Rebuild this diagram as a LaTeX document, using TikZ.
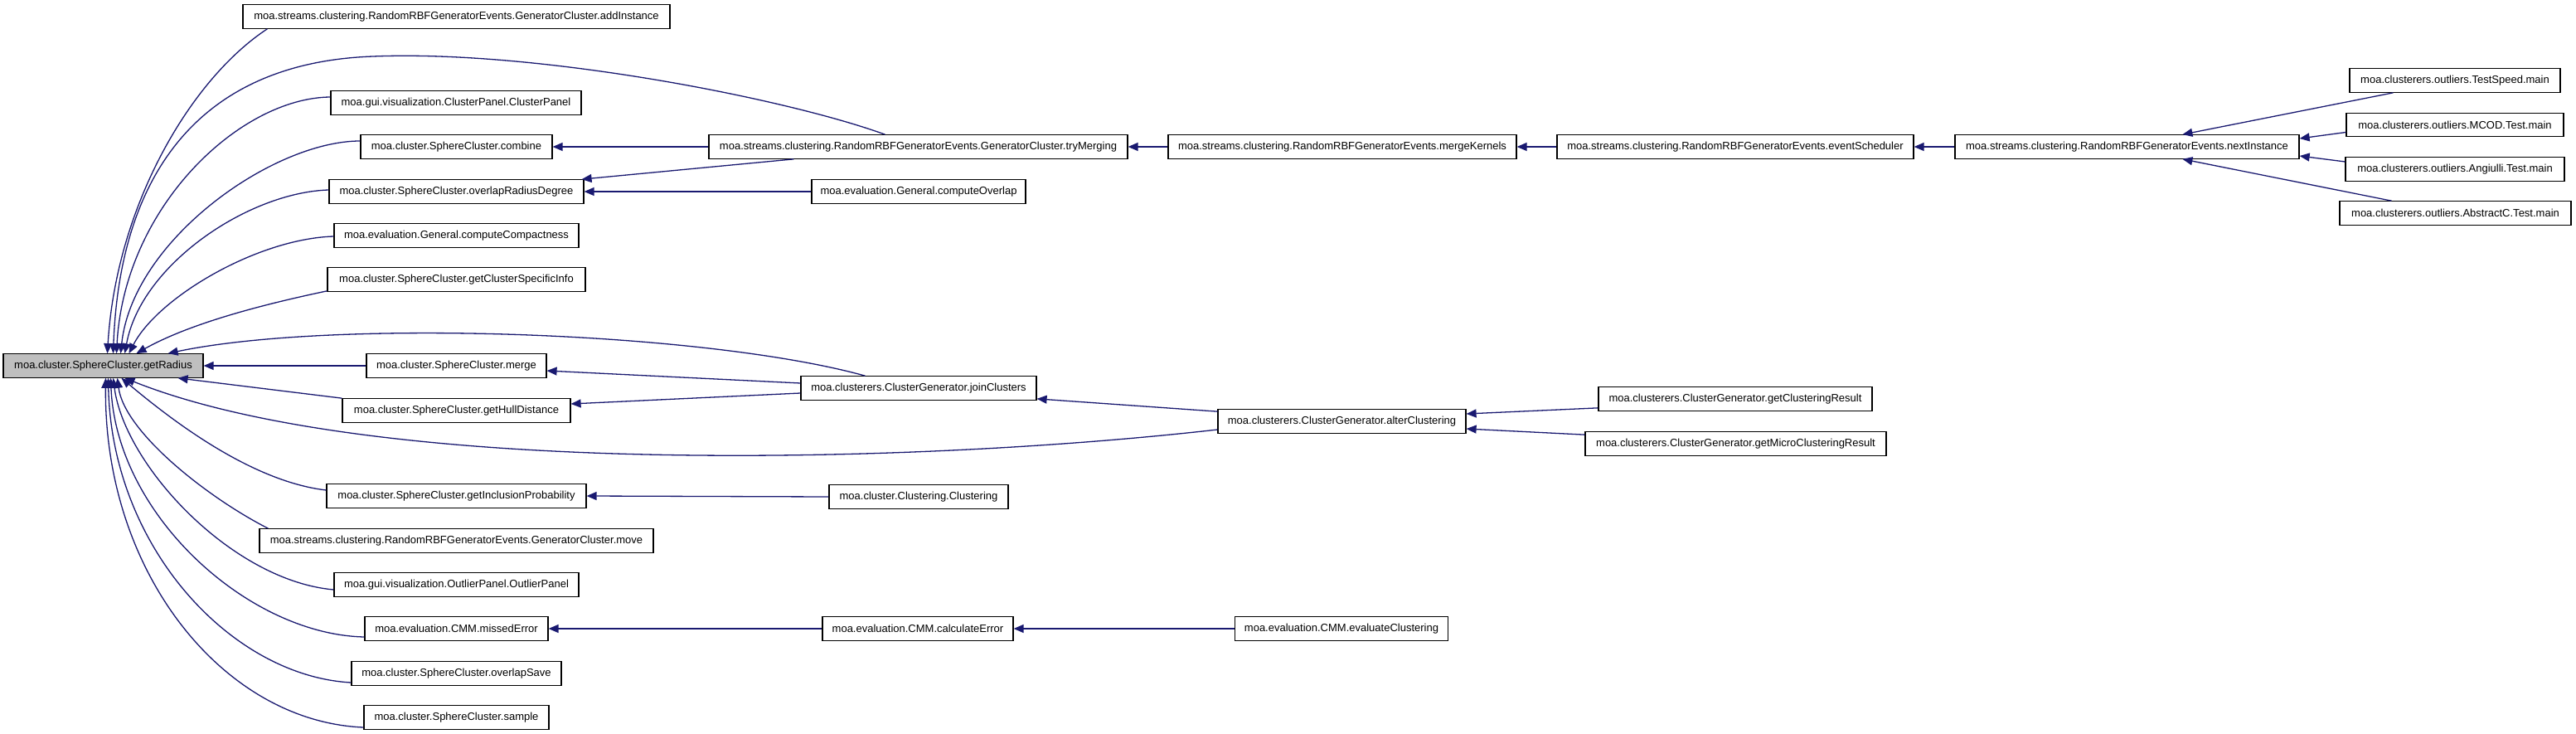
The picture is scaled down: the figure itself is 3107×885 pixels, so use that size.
\documentclass[tikz,border=0pt]{standalone}
\usepackage{fontspec}
\setmainfont{Liberation Sans}
\usetikzlibrary{arrows.meta,calc}
\definecolor{edgeblue}{HTML}{191970}
\definecolor{boxgray}{HTML}{BFBFBF}
\begin{document}
\begin{tikzpicture}[x=1pt,y=-1pt,
  fn/.style={draw=black, line width=1.2pt, fill=white, minimum height=28.5pt,
    inner xsep=2pt, inner ysep=0pt, font=\fontsize{13}{15}\selectfont, minimum width=#1},
  ed/.style={draw=edgeblue, line width=1.3pt, -{Triangle[length=12pt,width=10pt]}}]
\useasboundingbox (0,0) rectangle (3107,885);
% column 1
\node[fn=241, fill=boxgray] (gr) at (124.5,441) {moa.cluster.SphereCluster.getRadius};
% column 2
\node[fn=515] (ai) at (550.5,20) {moa.streams.clustering.RandomRBFGeneratorEvents.GeneratorCluster.addInstance};
\node[fn=302] (cp) at (550,124) {moa.gui.visualization.ClusterPanel.ClusterPanel};
\node[fn=231] (cb) at (550.5,177) {moa.cluster.SphereCluster.combine};
\node[fn=307] (ord) at (550.5,231) {moa.cluster.SphereCluster.overlapRadiusDegree};
\node[fn=295] (cc) at (550.5,284) {moa.evaluation.General.computeCompactness};
\node[fn=311] (gcsi) at (550.5,337) {moa.cluster.SphereCluster.getClusterSpecificInfo};
\node[fn=217] (mg) at (550.5,441) {moa.cluster.SphereCluster.merge};
\node[fn=275] (ghd) at (550.5,495) {moa.cluster.SphereCluster.getHullDistance};
\node[fn=313] (gip) at (550.5,598) {moa.cluster.SphereCluster.getInclusionProbability};
\node[fn=475] (mv) at (550.5,652) {moa.streams.clustering.RandomRBFGeneratorEvents.GeneratorCluster.move};
\node[fn=295] (op) at (550.5,705) {moa.gui.visualization.OutlierPanel.OutlierPanel};
\node[fn=221] (me) at (550.5,758) {moa.evaluation.CMM.missedError};
\node[fn=253] (os) at (550.5,812) {moa.cluster.SphereCluster.overlapSave};
\node[fn=223] (sp) at (550.5,865) {moa.cluster.SphereCluster.sample};
% column 3
\node[fn=505] (tm) at (1107.5,177) {moa.streams.clustering.RandomRBFGeneratorEvents.GeneratorCluster.tryMerging};
\node[fn=258] (co) at (1108,231) {moa.evaluation.General.computeOverlap};
\node[fn=284] (jc) at (1108,468) {moa.clusterers.ClusterGenerator.joinClusters};
\node[fn=216] (cl) at (1108,599) {moa.cluster.Clustering.Clustering};
\node[fn=230] (ce) at (1107,758) {moa.evaluation.CMM.calculateError};
% column 4
\node[fn=420] (mk) at (1619,177) {moa.streams.clustering.RandomRBFGeneratorEvents.mergeKernels};
\node[fn=299] (ac) at (1618.5,508) {moa.clusterers.ClusterGenerator.alterClustering};
\node[fn=257] (ec) at (1618,758) {moa.evaluation.CMM.evaluateClustering};
% column 5
\node[fn=430] (es) at (2093,177) {moa.streams.clustering.RandomRBFGeneratorEvents.eventScheduler};
\node[fn=330] (gcr) at (2093,481) {moa.clusterers.ClusterGenerator.getClusteringResult};
\node[fn=363] (gmcr) at (2093.5,535) {moa.clusterers.ClusterGenerator.getMicroClusteringResult};
% column 6
\node[fn=415] (ni) at (2565.5,177) {moa.streams.clustering.RandomRBFGeneratorEvents.nextInstance};
% column 7
\node[fn=254] (ts) at (2961,97) {moa.clusterers.outliers.TestSpeed.main};
\node[fn=262] (mc) at (2961,150.5) {moa.clusterers.outliers.MCOD.Test.main};
\node[fn=264] (an) at (2961,204) {moa.clusterers.outliers.Angiulli.Test.main};
\node[fn=279] (abs) at (2961.5,257) {moa.clusterers.outliers.AbstractC.Test.main};
\coordinate (tmvia) at (450,68);
% curved edges into getRadius (top)
\draw[ed] ($(ai.south west)+(30,0)$) .. controls +(-93,61) and +(10.5,-177) .. ($(gr.north)+(5,0)$);
\draw[ed] ($(tm.north west)+(213,0)$) .. controls +(-118,-43) and +(200,-8) .. (tmvia)
   .. controls +(-200,7) and +(8.5,-227) .. ($(gr.north)+(12,0)$);
\draw[ed] ($(cp.west)+(0,-7)$) .. controls +(-109,1) and +(9.5,-177) .. ($(gr.north)+(16,0)$);
\draw[ed] ($(cb.west)+(0,-7)$) .. controls +(-105,0) and +(14.5,-137) .. ($(gr.north)+(21,0)$);
\draw[ed] ($(ord.west)+(0,-2)$) .. controls +(-97,3) and +(19.5,-107) .. ($(gr.north)+(26,0)$);
\draw[ed] ($(cc.west)+(0,1)$) .. controls +(-93,3) and +(34.5,-67) .. ($(gr.north)+(31,0)$);
\draw[ed] ($(gcsi.south west)+(0,-1)$) .. controls +(-75,15.75) and +(65.5,-36.75) .. ($(gr.north)+(40,0)$);
\draw[ed] ($(jc.north west)+(78,0)$) .. controls +(-194,-53.75) and +(198,-41.75) .. ($(gr.north east)+(-43,0)$);
% straight edges into getRadius
\draw[ed] (mg.west) -- (gr.east);
\draw[ed] (ghd.north west) -- ($(gr.south east)+(-31,0)$);
% curved edges into getRadius (bottom)
\draw[ed] ($(ac.west)+(0,10)$) .. controls +(-369,42) and +(299.5,119.75) .. ($(gr.south)+(26,0)$);
\draw[ed] ($(gip.west)+(0,-7)$) .. controls +(-94,-11) and +(53.5,44.75) .. ($(gr.south)+(22,0)$);
\draw[ed] ($(mv.north west)+(11,0)$) .. controls +(-74,-37.75) and +(8.5,64.75) .. ($(gr.south)+(17,0)$);
\draw[ed] ($(op.west)+(0,6)$) .. controls +(-123,-11) and +(13.5,104.75) .. ($(gr.south)+(12,0)$);
\draw[ed] ($(me.west)+(0,10)$) .. controls +(-140,-3) and +(6.5,164.75) .. ($(gr.south)+(9,0)$);
\draw[ed] ($(os.west)+(0,11)$) .. controls +(-144,-8) and +(4.5,204.75) .. ($(gr.south)+(6,0)$);
\draw[ed] ($(sp.west)+(0,12)$) .. controls +(-169,-7) and +(-2.5,234.75) .. ($(gr.south)+(3,0)$);
% other edges
\draw[ed] (tm.west) -- (cb.east);
\draw[ed] ($(tm.south west)+(103,0)$) -- ($(ord.north east)+(-3,0)$);
\draw[ed] (co.west) -- (ord.east);
\draw[ed] ($(jc.west)+(0,-6)$) -- ($(mg.east)+(0,6)$);
\draw[ed] ($(jc.west)+(0,6)$) -- ($(ghd.east)+(0,-8)$);
\draw[ed] (cl.west) -- (gip.east);
\draw[ed] (ce.west) -- (me.east);
\draw[ed] (mk.west) -- (tm.east);
\draw[ed] ($(ac.north west)+(0,3)$) -- ($(jc.south east)+(0,-2)$);
\draw[ed] (ec.west) -- (ce.east);
\draw[ed] (es.west) -- (mk.east);
\draw[ed] ($(gcr.south west)+(0,-4)$) -- ($(ac.east)+(0,-9)$);
\draw[ed] ($(gmcr.north west)+(0,4)$) -- ($(ac.east)+(0,9)$);
\draw[ed] (ni.west) -- (es.east);
\draw[ed] ($(ts.south west)+(53,0)$) -- ($(ni.north west)+(275,0)$);
\draw[ed] ($(mc.west)+(0,9)$) -- ($(ni.east)+(0,-10)$);
\draw[ed] ($(an.west)+(0,-9)$) -- ($(ni.east)+(0,11)$);
\draw[ed] ($(abs.north west)+(63,0)$) -- ($(ni.south west)+(275,0)$);
\end{tikzpicture}
\end{document}
